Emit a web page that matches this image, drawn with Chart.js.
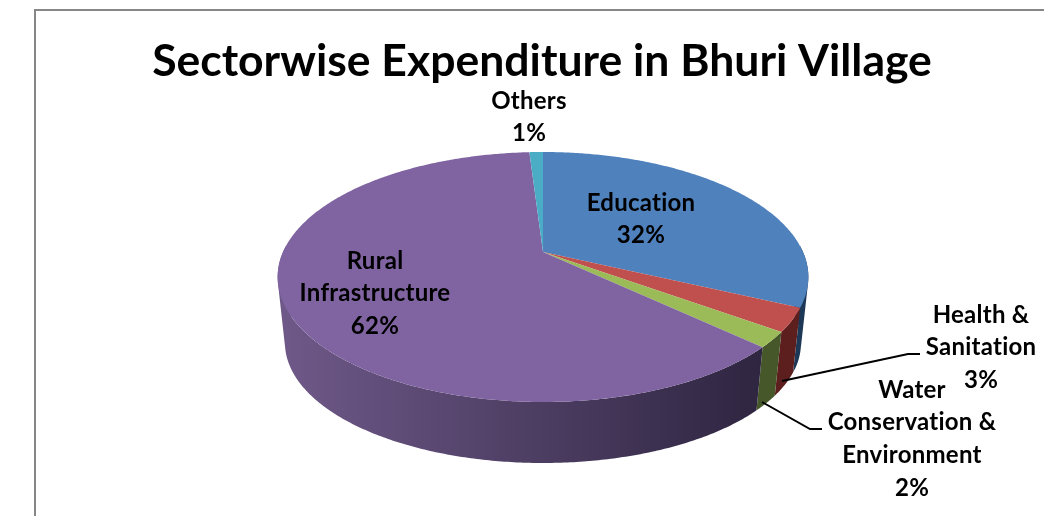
<!DOCTYPE html>
<html>
<head>
<meta charset="utf-8">
<style>
  html, body { margin: 0; padding: 0; background: #fff; }
  #wrap { width: 1044px; height: 516px; }
</style>
<script src="https://cdn.jsdelivr.net/npm/chart.js@4/dist/chart.umd.min.js"></script>
</head>
<body>
<div id="wrap"><canvas id="pie" width="1044" height="516"></canvas></div>
<script>
const categories = ["Education", "Health & Sanitation", "Water Conservation & Environment", "Rural Infrastructure", "Others"];
const percents = [32, 3, 2, 62, 1];
const labelLines = [["Education"], ["Health &", "Sanitation"], ["Water", "Conservation &", "Environment"], ["Rural", "Infrastructure"], ["Others"]];
const topColors = ["#4f81bd", "#c0504d", "#9bbb59", "#8064a2", "#4bacc6"];
const wallColors = [["#274a73", "#1d3857"], ["#5c1f1d", "#5c1f1d"], ["#4c5e28", "#46582a"], ["#6e5888", "#2e2540"], ["#2a6a7c", "#2a6a7c"]];

// where each label sits: centre x, middle y of the first row
const labelPos = [[641, 203], [981, 315], [912, 390], [375, 261], [529, 101]];
const lineGap = 32.7;
const leaders = [
  [[782, 381], [908, 354], [920, 354]],
  [[762, 402], [810, 429], [822, 429]]
];

// perspective disc, fitted on the reference: top rim and lower rim
const persp = 0.2;
const topRim = { cx: 543, cy: 252, a: 260, b: 120 };
const lowRim = { cx: 543, cy: 319, a: 252.8, b: 115.2 };
// only this part of the wall faces the viewer
const wallFrom = -0.05;
const wallTo = Math.PI + 0.05;

function project(rim, angle) {
  const u = Math.cos(angle), v = Math.sin(angle);
  const d = 1 - persp * v;
  return [rim.cx + rim.a * u / d, rim.cy + rim.b * v / d];
}

function traceArc(ctx, rim, from, to) {
  const steps = Math.max(2, Math.ceil(Math.abs(to - from) / 0.01));
  for (let i = 0; i <= steps; i++) {
    const p = project(rim, from + (to - from) * i / steps);
    ctx.lineTo(p[0], p[1]);
  }
}

// sweep the wall in small quads so the silhouette at the sides gets filled too,
// all in one path with the same winding so no seams show
function drawWall(ctx, startAngle, endAngle, style) {
  const from = Math.max(startAngle, wallFrom);
  const to = Math.min(endAngle, wallTo);
  if (to <= from) return;
  const steps = Math.max(2, Math.ceil((to - from) / 0.01));
  ctx.beginPath();
  for (let i = 0; i < steps; i++) {
    const a0 = from + (to - from) * i / steps;
    const a1 = from + (to - from) * (i + 1) / steps;
    const q = [project(topRim, a0), project(topRim, a1), project(lowRim, a1), project(lowRim, a0)];
    let area = 0;
    q.forEach(function (p, k) {
      const n = q[(k + 1) % 4];
      area += p[0] * n[1] - n[0] * p[1];
    });
    if (area < 0) q.reverse();
    ctx.moveTo(q[0][0], q[0][1]);
    ctx.lineTo(q[1][0], q[1][1]);
    ctx.lineTo(q[2][0], q[2][1]);
    ctx.lineTo(q[3][0], q[3][1]);
    ctx.closePath();
  }
  ctx.fillStyle = style;
  ctx.fill();
}

const tiltedPie = {
  id: "tiltedPie",
  beforeDatasetDraw(chart, args) {
    const ctx = chart.ctx;
    const arcs = chart.getDatasetMeta(args.index).data;

    // side wall first, the top face goes over its upper edge
    arcs.forEach(function (arc, i) {
      const g = ctx.createLinearGradient(285, 0, 765, 0);
      g.addColorStop(0, wallColors[i][0]);
      g.addColorStop(1, wallColors[i][1]);
      drawWall(ctx, arc.startAngle, arc.endAngle, g);
    });

    arcs.forEach(function (arc, i) {
      ctx.beginPath();
      ctx.moveTo(topRim.cx, topRim.cy);
      traceArc(ctx, topRim, arc.startAngle, arc.endAngle);
      ctx.closePath();
      ctx.fillStyle = arc.options.backgroundColor;
      ctx.fill();
    });
    return false;
  },
  afterDraw(chart) {
    const ctx = chart.ctx;
    ctx.save();

    // chart frame, cut off by the picture on the right and bottom
    ctx.strokeStyle = "#868686";
    ctx.lineWidth = 2;
    ctx.beginPath();
    ctx.moveTo(35, 516);
    ctx.lineTo(35, 10);
    ctx.lineTo(1044, 10);
    ctx.stroke();

    ctx.strokeStyle = "#000";
    ctx.lineWidth = 2;
    leaders.forEach(function (pts) {
      ctx.beginPath();
      pts.forEach(function (p, i) {
        if (i === 0) ctx.moveTo(p[0], p[1]);
        else ctx.lineTo(p[0], p[1]);
      });
      ctx.stroke();
    });

    ctx.fillStyle = "#000";
    ctx.font = "bold 24px Lato";
    ctx.letterSpacing = "0.25px"; // also stops the Lato "ti" ligature
    ctx.textAlign = "center";
    ctx.textBaseline = "middle";
    labelLines.forEach(function (lines, i) {
      const rows = lines.concat(percents[i] + "%");
      rows.forEach(function (row, r) {
        ctx.fillText(row, labelPos[i][0], labelPos[i][1] + r * lineGap);
      });
    });
    ctx.restore();
  }
};

new Chart(document.getElementById("pie"), {
  type: "pie",
  data: {
    labels: categories,
    datasets: [{ data: percents, backgroundColor: topColors, borderWidth: 0 }]
  },
  options: {
    responsive: false,
    animation: false,
    layout: { padding: { left: 40, top: 0 } },
    plugins: {
      legend: { display: false },
      tooltip: { enabled: false },
      title: {
        display: true,
        text: "Sectorwise Expenditure in Bhuri Village",
        color: "#000",
        font: { family: "Lato", size: 44.5, weight: "bold" },
        padding: { top: 35, bottom: 10 }
      }
    }
  },
  plugins: [tiltedPie]
});
</script>
</body>
</html>
